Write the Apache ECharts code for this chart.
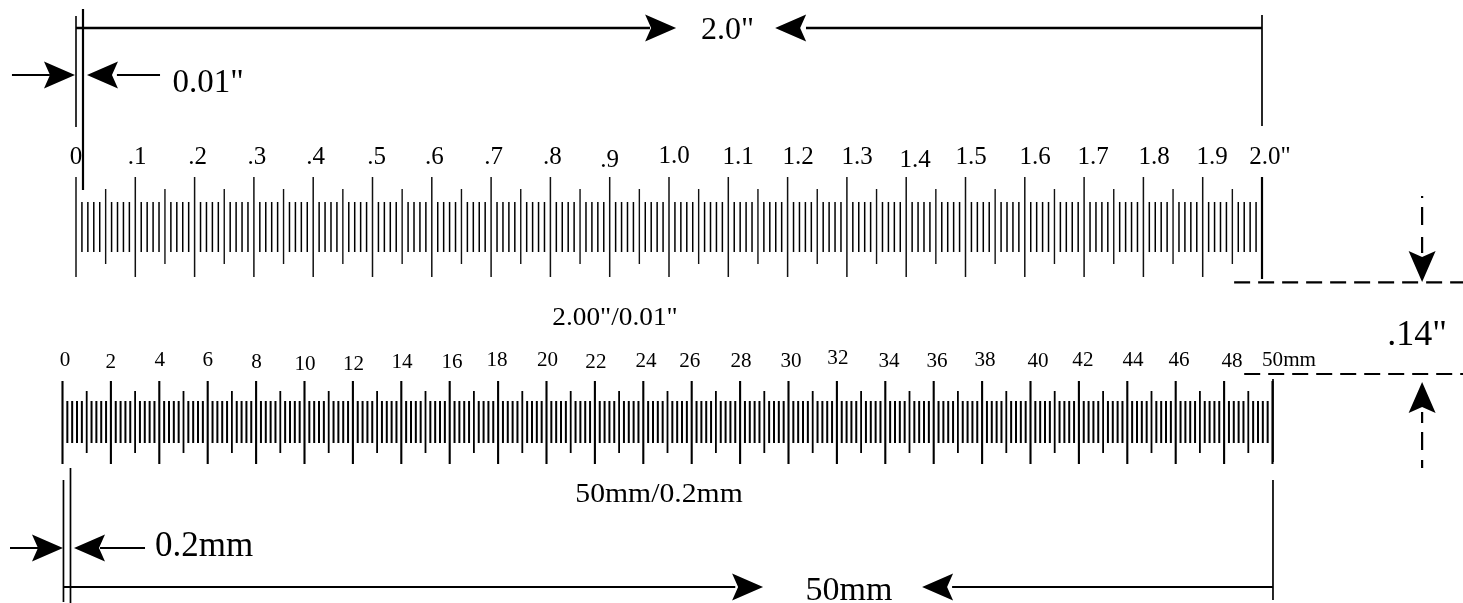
<!DOCTYPE html>
<html>
<head>
<meta charset="utf-8">
<style>html,body{margin:0;padding:0;background:#fff}#c{width:1463px;height:603px}</style>
<script src="https://cdn.jsdelivr.net/npm/echarts@6/dist/echarts.min.js"></script>
</head>
<body>
<div id="c"></div>
<script>
// ---------- DATA (inches on the upper ruler, millimetres on the lower) ----------
const inchLabels = ['0','.1','.2','.3','.4','.5','.6','.7','.8','.9','1.0','1.1','1.2','1.3','1.4','1.5','1.6','1.7','1.8','1.9','2.0"'];
const inchLong = [0,0.1,0.2,0.3,0.4,0.5,0.6,0.7,0.8,0.9,1.0,1.1,1.2,1.3,1.4,1.5,1.6,1.7,1.8,1.9,2.0];
const inchMid = [0.05,0.15,0.25,0.35,0.45,0.55,0.65,0.75,0.85,0.95,1.05,1.15,1.25,1.35,1.45,1.55,1.65,1.75,1.85,1.95];
const inchShort = [
0.01,0.02,0.03,0.04,0.06,0.07,0.08,0.09,0.11,0.12,0.13,0.14,0.16,0.17,0.18,0.19,
0.21,0.22,0.23,0.24,0.26,0.27,0.28,0.29,0.31,0.32,0.33,0.34,0.36,0.37,0.38,0.39,
0.41,0.42,0.43,0.44,0.46,0.47,0.48,0.49,0.51,0.52,0.53,0.54,0.56,0.57,0.58,0.59,
0.61,0.62,0.63,0.64,0.66,0.67,0.68,0.69,0.71,0.72,0.73,0.74,0.76,0.77,0.78,0.79,
0.81,0.82,0.83,0.84,0.86,0.87,0.88,0.89,0.91,0.92,0.93,0.94,0.96,0.97,0.98,0.99,
1.01,1.02,1.03,1.04,1.06,1.07,1.08,1.09,1.11,1.12,1.13,1.14,1.16,1.17,1.18,1.19,
1.21,1.22,1.23,1.24,1.26,1.27,1.28,1.29,1.31,1.32,1.33,1.34,1.36,1.37,1.38,1.39,
1.41,1.42,1.43,1.44,1.46,1.47,1.48,1.49,1.51,1.52,1.53,1.54,1.56,1.57,1.58,1.59,
1.61,1.62,1.63,1.64,1.66,1.67,1.68,1.69,1.71,1.72,1.73,1.74,1.76,1.77,1.78,1.79,
1.81,1.82,1.83,1.84,1.86,1.87,1.88,1.89,1.91,1.92,1.93,1.94,1.96,1.97,1.98,1.99];
const mmLabels = ['0','2','4','6','8','10','12','14','16','18','20','22','24','26','28','30','32','34','36','38','40','42','44','46','48','50mm'];
const mmLong = [0,2,4,6,8,10,12,14,16,18,20,22,24,26,28,30,32,34,36,38,40,42,44,46,48,50];
const mmMid = [1,3,5,7,9,11,13,15,17,19,21,23,25,27,29,31,33,35,37,39,41,43,45,47,49];
const mmShort = [
0.2,0.4,0.6,0.8,1.2,1.4,1.6,1.8,2.2,2.4,2.6,2.8,3.2,3.4,3.6,3.8,4.2,4.4,4.6,4.8,
5.2,5.4,5.6,5.8,6.2,6.4,6.6,6.8,7.2,7.4,7.6,7.8,8.2,8.4,8.6,8.8,9.2,9.4,9.6,9.8,
10.2,10.4,10.6,10.8,11.2,11.4,11.6,11.8,12.2,12.4,12.6,12.8,13.2,13.4,13.6,13.8,14.2,14.4,14.6,14.8,
15.2,15.4,15.6,15.8,16.2,16.4,16.6,16.8,17.2,17.4,17.6,17.8,18.2,18.4,18.6,18.8,19.2,19.4,19.6,19.8,
20.2,20.4,20.6,20.8,21.2,21.4,21.6,21.8,22.2,22.4,22.6,22.8,23.2,23.4,23.6,23.8,24.2,24.4,24.6,24.8,
25.2,25.4,25.6,25.8,26.2,26.4,26.6,26.8,27.2,27.4,27.6,27.8,28.2,28.4,28.6,28.8,29.2,29.4,29.6,29.8,
30.2,30.4,30.6,30.8,31.2,31.4,31.6,31.8,32.2,32.4,32.6,32.8,33.2,33.4,33.6,33.8,34.2,34.4,34.6,34.8,
35.2,35.4,35.6,35.8,36.2,36.4,36.6,36.8,37.2,37.4,37.6,37.8,38.2,38.4,38.6,38.8,39.2,39.4,39.6,39.8,
40.2,40.4,40.6,40.8,41.2,41.4,41.6,41.8,42.2,42.4,42.6,42.8,43.2,43.4,43.6,43.8,44.2,44.4,44.6,44.8,
45.2,45.4,45.6,45.8,46.2,46.4,46.6,46.8,47.2,47.4,47.6,47.8,48.2,48.4,48.6,48.8,49.2,49.4,49.6,49.8];
const captions = ['2.0"','0.01"','2.00"/0.01"','.14"','50mm/0.2mm','0.2mm','50mm'];

// ---------- DRAWING STYLE AND LAYOUT ----------
const FONT = '"Liberation Serif","Times New Roman",serif';
const inchTickSpan = {long:[177,277], mid:[189,264], short:[202,252]};
const mmTickSpan = {long:[381,464], mid:[391,453], short:[401,443]};
// hand-lettered label offsets in the original drawing [dx,dy]
const inchNudge = [[0,0],[1.7,0],[3,0],[3,0],[2.5,0],[4,0],[2.5,0],[2.5,0],[2,0],[0,3.5],[5,-.5],[9.7,0],[10.4,0],[10.1,0],[8.8,3],[5.5,0],[10.2,0],[8.9,0],[10.6,0],[9.3,0],[8,0]];
const mmNudge = [[2.5,-.4],[0,1.2],[.4,-.4],[0,-.4],[.5,1.2],[.5,2.8],[.7,2.8],[.7,.8],[2.3,1.6],[-1,-.4],[1,-.4],[1,1.6],[2.7,0],[-2,.4],[1,0],[2.5,0],[1,-2.5],[3.7,0],[3.3,0],[3,-.4],[7.5,0],[4,-.4],[5.7,-.4],[3.3,-.4],[8,0],[16.5,-.4]];

// dimension geometry: [x1,y1,x2,y2,width], x on the ruler's own scale, y on the sheet scale
const inchLines = [
 [0,16,0,127,1.6],[0.0118,9,0.0118,190,2.2],[2,15,2,126,1.7],[2,177,2,279,2.2],
 [0,28,0.968,28,2.4],[1.231,28,2,28,2.4],
 [-0.108,75,-0.044,75,2],[0.069,75,0.1417,75,2]];
const mmLines = [
 [0.04,480,0.04,602,1.7],[0.33,468,0.33,603,1.7],[50.02,480,50.02,600,1.7],[50.02,379,50.02,462,1.7],
 [0.04,587,27.8,587,2],[36.76,587,50.02,587,2],
 [-2.17,548,-0.93,548,2],[1.55,548,3.41,548,2]];
const inchDashLines = [[1.953,282.3,2.339,282.3],[1.970,374,2.339,374]];
const inchVertDashes = [[2.27,196,2.27,198],[2.27,207,2.27,225],[2.27,237,2.27,253],[2.27,412,2.27,423],[2.27,432,2.27,450],[2.27,460,2.27,468]];
// arrows: [tipX, tipY, direction in degrees]
const inchArrows = [[1.012,28,0],[1.179,28,180],[-0.0017,75,0],[0.0185,75,180],[2.27,282,90],[2.27,382,-90]];
const mmArrows = [[28.95,587,0],[35.52,587,180],[0.02,548,0],[0.475,548,180]];
// captions: axis index, x, y, font px, horizontal stretch
const captionPlace = [[0,1.0986,31,32,1],[0,0.2226,83.5,33,1],[0,0.9089,318,26,1.05],[0,2.2614,336,36,1],[1,24.65,494.5,28,1.06],[1,5.85,547,35,1],[1,32.5,591.5,34,1]];

function lineSeries(axis, rows, dash, defaultWidth){
  return {type:'custom', xAxisIndex:axis, yAxisIndex:axis, silent:true, animation:false,
    data:rows, renderItem(p, api){
      const a = api.coord([api.value(0),api.value(1)]), b = api.coord([api.value(2),api.value(3)]);
      return {type:'line', shape:{x1:a[0],y1:a[1],x2:b[0],y2:b[1]},
        style:{stroke:'#000', lineWidth: rows[p.dataIndex][4]||defaultWidth, lineDash:dash||null}};
    }};
}
function tickSeries(axis, values, span, width, color){
  return {type:'custom', xAxisIndex:axis, yAxisIndex:axis, silent:true, animation:false,
    data:values.map(v=>[v]), renderItem(p, api){
      const a = api.coord([api.value(0),span[0]]), b = api.coord([api.value(0),span[1]]);
      return {type:'line', shape:{x1:a[0],y1:a[1],x2:b[0],y2:b[1]}, style:{stroke:color,lineWidth:width}};
    }};
}
function arrowSeries(axis, rows){
  return {type:'custom', xAxisIndex:axis, yAxisIndex:axis, silent:true, animation:false,
    data:rows, renderItem(p, api){
      const t = api.coord([api.value(0),api.value(1)]), ang = api.value(2)*Math.PI/180;
      const c = Math.cos(ang), s = Math.sin(ang);
      const pts = [[0,0],[-31,-13.5],[-25,0],[-31,13.5]].map(q=>[t[0]+q[0]*c-q[1]*s, t[1]+q[0]*s+q[1]*c]);
      return {type:'polygon', shape:{points:pts}, style:{fill:'#000'}};
    }};
}
function labelSeries(axis, values, labels, nudge, y0, size, stretch){
  return {type:'custom', xAxisIndex:axis, yAxisIndex:axis, silent:true, animation:false,
    data:values.map(v=>[v]), renderItem(p, api){
      const t = api.coord([api.value(0),y0]), n = nudge[p.dataIndex];
      return {type:'text', x:t[0]+n[0], y:t[1]+n[1], scaleX:stretch,
        style:{text:labels[p.dataIndex], fill:'#000', font:size+'px '+FONT, textAlign:'center', textVerticalAlign:'middle'}};
    }};
}
function captionSeries(axis){
  const idx = captionPlace.map((c,i)=>i).filter(i=>captionPlace[i][0]===axis);
  return {type:'custom', xAxisIndex:axis, yAxisIndex:axis, silent:true, animation:false,
    data:idx.map(i=>[captionPlace[i][1],captionPlace[i][2]]), renderItem(p, api){
      const i = idx[p.dataIndex], c = captionPlace[i], t = api.coord([api.value(0),api.value(1)]);
      return {type:'text', x:t[0], y:t[1], scaleX:c[4],
        style:{text:captions[i], fill:'#000', font:c[3]+'px '+FONT, textAlign:'center', textVerticalAlign:'middle'}};
    }};
}

const chart = echarts.init(document.getElementById('c'), null, {renderer:'canvas'});
chart.setOption({
  backgroundColor:'#fff',
  animation:false,
  grid:[{left:76,width:1186,top:0,height:603},{left:62.5,width:1210,top:0,height:603}],
  xAxis:[{type:'value',gridIndex:0,min:0,max:2,show:false},{type:'value',gridIndex:1,min:0,max:50,show:false}],
  yAxis:[{type:'value',gridIndex:0,min:0,max:603,inverse:true,show:false},{type:'value',gridIndex:1,min:0,max:603,inverse:true,show:false}],
  series:[
    tickSeries(0,inchLong,inchTickSpan.long,1.5,'#111'),
    tickSeries(0,inchMid,inchTickSpan.mid,1.4,'#111'),
    tickSeries(0,inchShort,inchTickSpan.short,1.5,'#000'),
    tickSeries(1,mmLong,mmTickSpan.long,2.1,'#000'),
    tickSeries(1,mmMid,mmTickSpan.mid,1.8,'#000'),
    tickSeries(1,mmShort,mmTickSpan.short,2,'#000'),
    lineSeries(0,inchLines,null,2),
    lineSeries(1,mmLines,null,2),
    lineSeries(0,inchDashLines,[16,8],2.2),
    lineSeries(0,inchVertDashes,null,2.2),
    arrowSeries(0,inchArrows),
    arrowSeries(1,mmArrows),
    labelSeries(0,inchLong,inchLabels,inchNudge,157,25,1),
    labelSeries(1,mmLong,mmLabels,mmNudge,361,22,0.96),
    captionSeries(0),
    captionSeries(1)
  ]
});
</script>
</body>
</html>
